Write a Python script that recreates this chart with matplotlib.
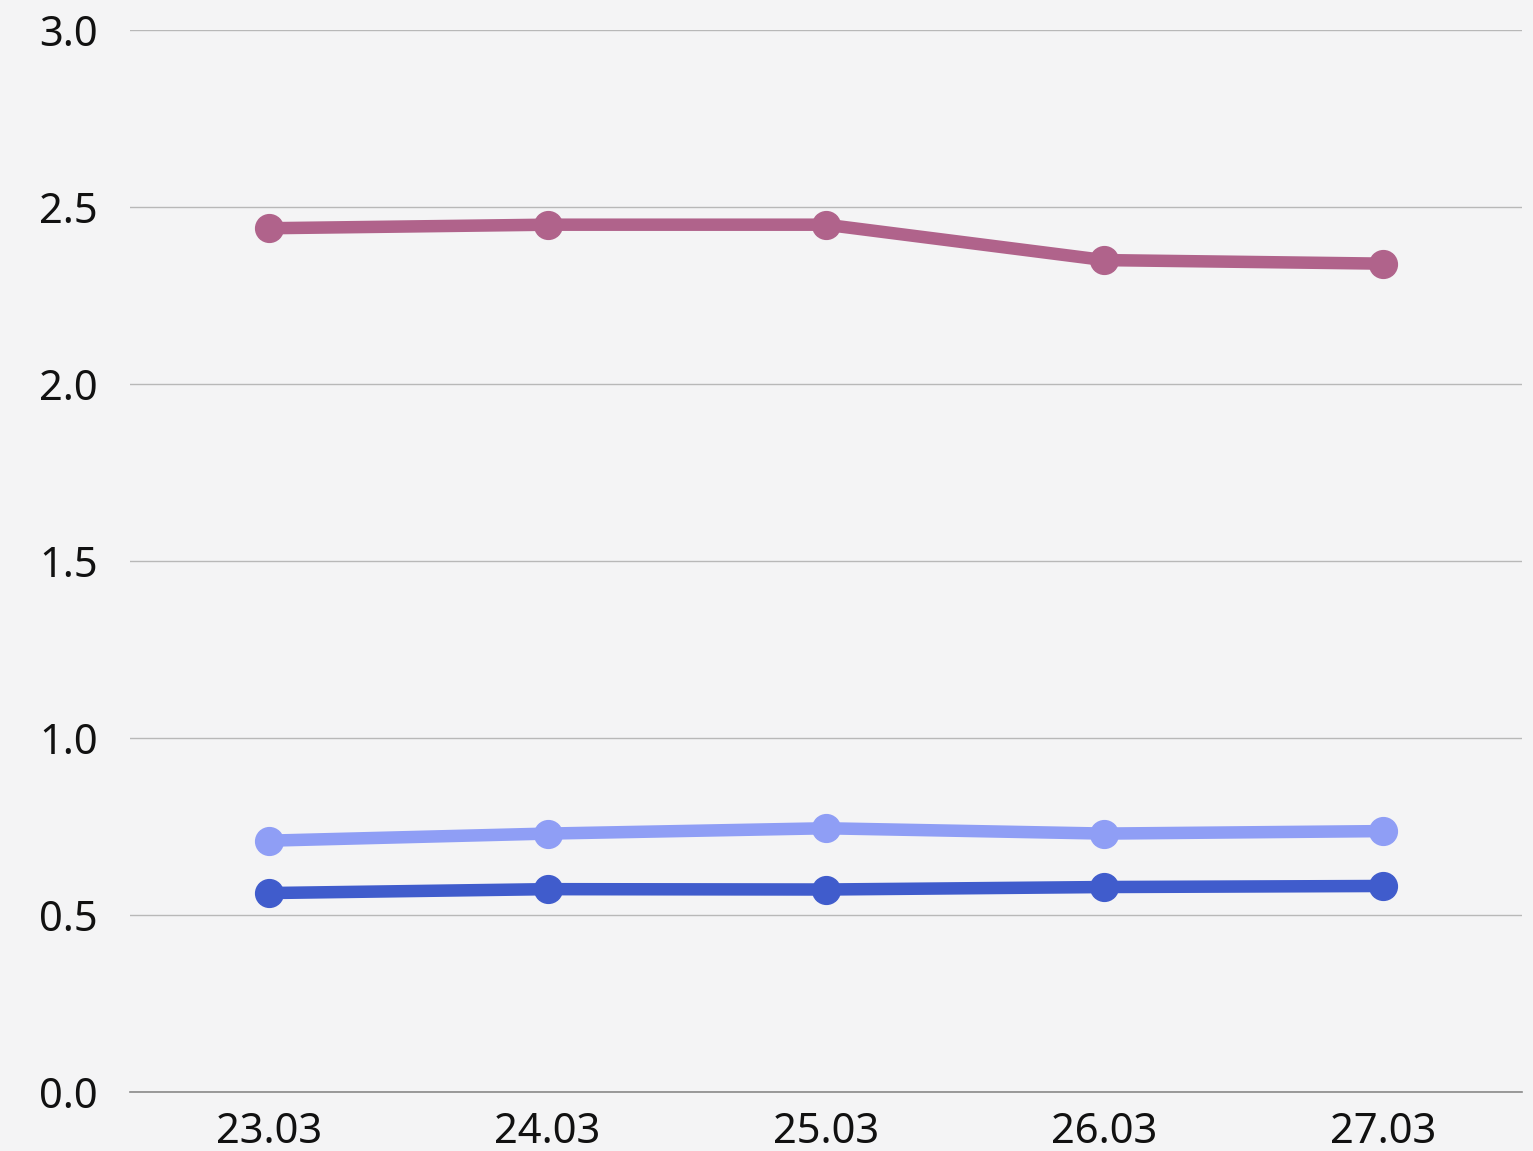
import matplotlib.pyplot as plt

dates = ["23.03", "24.03", "25.03", "26.03", "27.03"]
series_purple = [2.44, 2.45, 2.45, 2.35, 2.34]
series_light = [0.71, 0.73, 0.745, 0.73, 0.737]
series_dark = [0.562, 0.573, 0.572, 0.579, 0.582]

colours = {"purple": "#b0638b", "light": "#8f9ef5", "dark": "#405ccc"}

plt.rcParams['font.family'] = ['Noto Sans', 'DejaVu Sans']

fig = plt.figure(figsize=(15.33, 11.51), dpi=100, facecolor="#f4f4f5")
ax = fig.add_axes([130 / 1533, 1 - 1092 / 1151, 1392 / 1533, 1062 / 1151])
ax.set_facecolor("#f4f4f5")

x = range(len(dates))
for vals, key in [(series_purple, "purple"), (series_light, "light"), (series_dark, "dark")]:
    ax.plot(x, vals, color=colours[key], linewidth=9, marker="o", markersize=20,
            solid_capstyle="round", zorder=3)

ax.set_xlim(-0.5, 4.5)
ax.set_ylim(0, 3.0)
ax.set_xticks(list(x))
ax.set_xticklabels(dates)
ax.set_yticks([0, 0.5, 1.0, 1.5, 2.0, 2.5, 3.0])
ax.set_yticklabels(["0.0", "0.5", "1.0", "1.5", "2.0", "2.5", "3.0"])

ax.grid(axis='y', color="#b8b8b8", linewidth=1)
ax.set_axisbelow(True)
for side in ["top", "right", "left"]:
    ax.spines[side].set_visible(False)
ax.spines["bottom"].set_color("#8a8a8a")
ax.spines["bottom"].set_linewidth(1.2)

ax.tick_params(axis='both', length=0, labelsize=30, colors="#111111")
ax.tick_params(axis='y', pad=23)
ax.tick_params(axis='x', pad=14)

fig.savefig("out.png", dpi=100, facecolor=fig.get_facecolor())
